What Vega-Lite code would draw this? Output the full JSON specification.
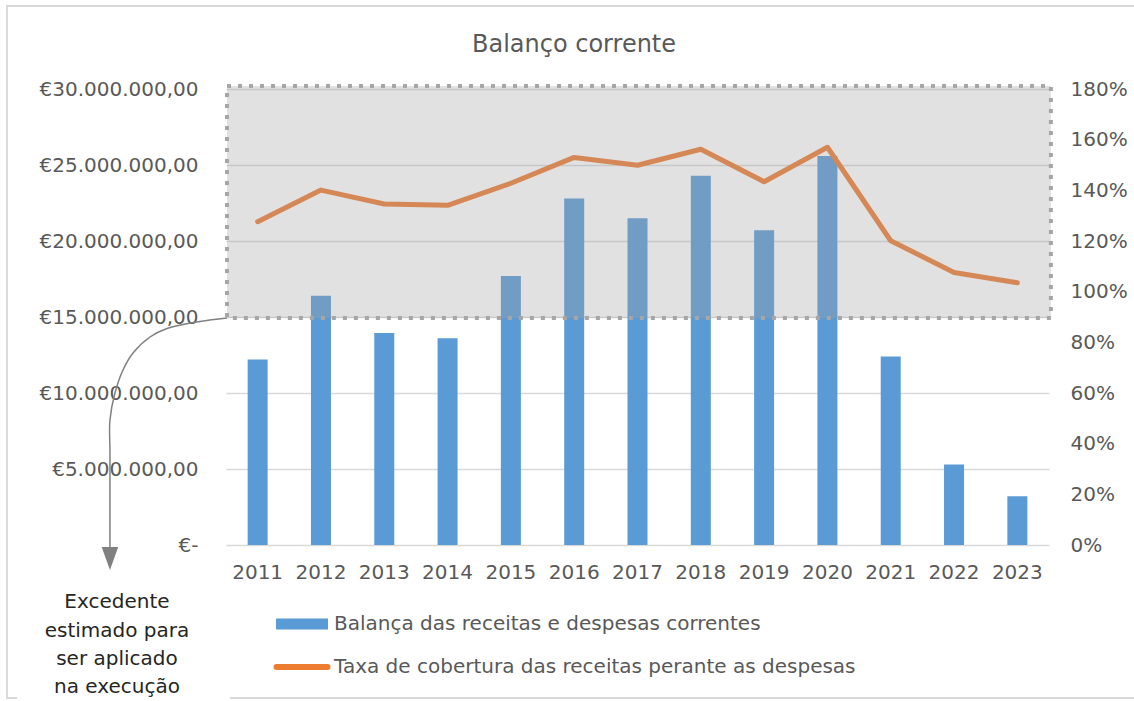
{
  "$schema": "https://vega.github.io/schema/vega-lite/v6.json",
  "width": 823,
  "height": 456,
  "autosize": {"type": "none"},
  "padding": {"left": 226, "top": 89, "right": 85, "bottom": 156},
  "background": "white",
  "title": {"text": "Balanço corrente", "anchor": "middle", "frame": "group", "dx": -63.5, "fontSize": 24, "font": "DejaVu Sans", "fontWeight": "normal", "color": "#595959", "offset": -55},
  "datasets": {
    "main": [
      {"year": "2011", "bal": 12200000, "taxa": 1.276},
      {"year": "2012", "bal": 16400000, "taxa": 1.401},
      {"year": "2013", "bal": 13950000, "taxa": 1.346},
      {"year": "2014", "bal": 13600000, "taxa": 1.341},
      {"year": "2015", "bal": 17700000, "taxa": 1.428},
      {"year": "2016", "bal": 22800000, "taxa": 1.530},
      {"year": "2017", "bal": 21500000, "taxa": 1.499},
      {"year": "2018", "bal": 24300000, "taxa": 1.562},
      {"year": "2019", "bal": 20700000, "taxa": 1.434},
      {"year": "2020", "bal": 25600000, "taxa": 1.570},
      {"year": "2021", "bal": 12400000, "taxa": 1.201},
      {"year": "2022", "bal": 5300000, "taxa": 1.076},
      {"year": "2023", "bal": 3200000, "taxa": 1.035}
    ],
    "box": [{"x1": 0.016, "x2": 13.03, "y1": 14930000, "y2": 30200000}],
    "arrow": [
      {"i": 0, "ax": 0.016, "ay": 14934000},
      {"i": 1, "ax": -0.411, "ay": 14704000},
      {"i": 2, "ax": -0.932, "ay": 14243000},
      {"i": 3, "ax": -1.201, "ay": 13684000},
      {"i": 4, "ax": -1.469, "ay": 12632000},
      {"i": 5, "ax": -1.627, "ay": 11513000},
      {"i": 6, "ax": -1.754, "ay": 10000000},
      {"i": 7, "ax": -1.833, "ay": 8224000},
      {"i": 8, "ax": -1.833, "ay": 6053000},
      {"i": 9, "ax": -1.833, "ay": -329000}
    ],
    "head": [{"ax": -1.833, "ay": -888000}],
    "note": [{"label": "Excedente\nestimado para\nser aplicado\nna execução", "ax": -1.722, "ay": -3780000}],
    "border": [
      {"seg": "a", "i": 0, "ax": 14.5, "ay": 35460000},
      {"seg": "a", "i": 1, "ax": -3.46, "ay": 35460000},
      {"seg": "a", "i": 2, "ax": -3.46, "ay": -10066000},
      {"seg": "a", "i": 3, "ax": -3.3, "ay": -10066000},
      {"seg": "b", "i": 4, "ax": 0.063, "ay": -10066000},
      {"seg": "b", "i": 5, "ax": 14.5, "ay": -10066000}
    ]
  },
  "layer": [
    {
      "data": {"name": "main"},
      "mark": {"type": "bar", "color": "#5B9BD5"},
      "encoding": {
        "x": {"field": "year", "type": "nominal", "scale": {"type": "band", "paddingInner": 0.684, "paddingOuter": 0.342},
              "axis": {"title": null, "labelAngle": 0, "domain": false, "ticks": false, "labelPadding": 17, "grid": false}},
        "y": {"field": "bal", "type": "quantitative", "scale": {"domain": [0, 30000000], "nice": false},
              "axis": {"title": null, "values": [0, 5000000, 10000000, 15000000, 20000000, 25000000, 30000000],
                       "labelExpr": "datum.value == 0 ? '€-' : '€' + replace(format(datum.value, ','), regexp(',', 'g'), '.') + ',00'",
                       "domain": false, "ticks": false, "labelPadding": 28, "grid": true, "gridColor": "#D9D9D9", "gridWidth": 1.3}},
        "color": {"datum": "Balança das receitas e despesas correntes", "scale": {"range": ["#5B9BD5"]},
                  "legend": {"orient": "none", "legendX": 50, "legendY": 509, "title": null, "symbolType": "M-1,-0.21H1V0.21H-1Z", "symbolSize": 2704, "symbolStrokeWidth": 0, "labelLimit": 800, "labelOffset": 6}}
      }
    },
    {
      "data": {"name": "main"},
      "mark": {"type": "line", "strokeWidth": 5, "strokeCap": "round", "strokeJoin": "round"},
      "encoding": {
        "x": {"field": "year", "type": "nominal", "scale": {"type": "point", "padding": 0.5}, "axis": null},
        "y": {"field": "taxa", "type": "quantitative", "scale": {"domain": [0, 1.8], "nice": false},
              "axis": {"orient": "right", "title": null, "values": [0, 0.2, 0.4, 0.6, 0.8, 1.0, 1.2, 1.4, 1.6, 1.8], "format": ".0%",
                       "domain": false, "ticks": false, "labelPadding": 21, "grid": false}},
        "color": {"datum": "Taxa de cobertura das receitas perante as despesas", "scale": {"range": ["#ED7D31"]},
                  "legend": {"orient": "none", "legendX": 47, "legendY": 549, "title": null, "symbolType": "M-0.98,0H0.98", "symbolSize": 2704, "symbolStrokeWidth": 6, "labelLimit": 800, "labelOffset": 3,
                             "encode": {"symbols": {"update": {"strokeCap": {"value": "round"}}}}}}
      }
    },
    {
      "data": {"name": "box"},
      "mark": {"type": "rect", "fill": "#A3A3A3", "fillOpacity": 0.32, "stroke": "#A6A6A6", "strokeOpacity": 1, "strokeWidth": 4, "strokeDash": [4, 7]},
      "encoding": {
        "x": {"field": "x1", "type": "quantitative", "scale": {"domain": [0, 13], "nice": false, "zero": false}, "axis": null},
        "x2": {"field": "x2"},
        "y": {"field": "y1", "type": "quantitative", "scale": {"domain": [0, 30000000], "nice": false, "zero": false}, "axis": null},
        "y2": {"field": "y2"}
      }
    },
    {
      "data": {"name": "arrow"},
      "mark": {"type": "line", "stroke": "#808080", "strokeWidth": 1.5, "interpolate": "catmull-rom"},
      "encoding": {
        "x": {"field": "ax", "type": "quantitative", "scale": {"domain": [0, 13], "nice": false, "zero": false}, "axis": null},
        "y": {"field": "ay", "type": "quantitative", "scale": {"domain": [0, 30000000], "nice": false, "zero": false}, "axis": null},
        "order": {"field": "i"}
      }
    },
    {
      "data": {"name": "head"},
      "mark": {"type": "point", "shape": "M-0.72,-1L0.72,-1L0,1Z", "size": 529, "filled": true, "color": "#808080", "opacity": 1},
      "encoding": {
        "x": {"field": "ax", "type": "quantitative", "scale": {"domain": [0, 13], "nice": false, "zero": false}, "axis": null},
        "y": {"field": "ay", "type": "quantitative", "scale": {"domain": [0, 30000000], "nice": false, "zero": false}, "axis": null}
      }
    },
    {
      "data": {"name": "note"},
      "mark": {"type": "text", "lineBreak": "\n", "lineHeight": 28.3, "align": "center", "baseline": "middle", "font": "DejaVu Sans", "fontSize": 20, "color": "#262626"},
      "encoding": {
        "x": {"field": "ax", "type": "quantitative", "scale": {"domain": [0, 13], "nice": false, "zero": false}, "axis": null},
        "y": {"field": "ay", "type": "quantitative", "scale": {"domain": [0, 30000000], "nice": false, "zero": false}, "axis": null},
        "text": {"field": "label"}
      }
    },
    {
      "data": {"name": "border"},
      "mark": {"type": "line", "stroke": "#D9D9D9", "strokeWidth": 2},
      "encoding": {
        "x": {"field": "ax", "type": "quantitative", "scale": {"domain": [0, 13], "nice": false, "zero": false}, "axis": null},
        "y": {"field": "ay", "type": "quantitative", "scale": {"domain": [0, 30000000], "nice": false, "zero": false}, "axis": null},
        "detail": {"field": "seg"},
        "order": {"field": "i"}
      }
    }
  ],
  "resolve": {"scale": {"x": "independent", "y": "independent", "color": "independent"}},
  "config": {
    "view": {"stroke": null},
    "font": "DejaVu Sans",
    "axis": {"labelFont": "DejaVu Sans", "labelFontSize": 20, "labelColor": "#595959"},
    "legend": {"labelFont": "DejaVu Sans", "labelFontSize": 20, "labelColor": "#595959", "padding": 0}
  }
}
